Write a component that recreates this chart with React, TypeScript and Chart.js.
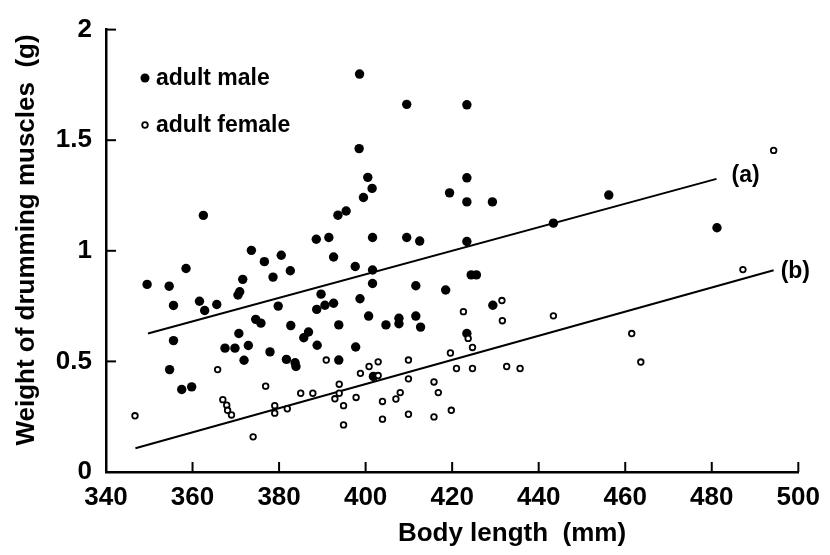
import React, { useEffect, useRef } from "react";
import { Chart, registerables } from "chart.js";

Chart.register(...registerables);

// Body length (mm) / weight (g), adult males (filled)
const maleX = [349.5, 354.6, 355.6, 355.6, 354.7, 357.5, 359.8, 358.5, 361.6, 362.8, 362.5, 365.6, 367.5, 369.8, 370.5, 370.9, 370.7, 371.6, 371.9, 372.9, 373.6, 374.6, 375.8, 376.6, 377.9, 378.6, 379.8, 380.5, 381.7, 382.6, 382.7, 383.7, 383.9, 385.7, 386.8, 388.6, 388.7, 388.8, 389.7, 390.6, 391.5, 392.6, 392.6, 393.6, 393.8, 393.8, 395.5, 397.6, 397.7, 398.5, 398.6, 398.7, 399.5, 400.5, 400.7, 401.5, 401.6, 401.6, 401.6, 401.8, 404.7, 407.7, 407.7, 409.5, 409.5, 411.6, 411.6, 412.5, 412.7, 418.5, 419.4, 423.4, 423.4, 423.4, 423.4, 423.4, 424.4, 425.6, 429.3, 429.4, 443.4, 456.2, 481.2];
const maleY = [0.848, 0.84, 0.753, 0.594, 0.463, 0.373, 0.385, 0.92, 0.772, 0.73, 1.16, 0.757, 0.56, 0.56, 0.8, 0.815, 0.626, 0.871, 0.505, 0.572, 1.002, 0.69, 0.673, 0.951, 0.543, 0.881, 0.75, 0.98, 0.509, 0.91, 0.662, 0.494, 0.477, 0.607, 0.633, 1.052, 0.735, 0.573, 0.804, 0.754, 1.06, 0.972, 0.763, 1.161, 0.665, 0.506, 1.18, 0.929, 0.565, 1.462, 1.799, 0.783, 1.241, 1.332, 0.705, 1.282, 1.06, 0.913, 0.852, 0.432, 0.665, 0.695, 0.67, 1.662, 1.06, 0.842, 0.705, 1.044, 0.655, 0.823, 1.262, 1.66, 1.33, 1.221, 1.042, 0.626, 0.891, 0.891, 1.221, 0.754, 1.125, 1.252, 1.104];

// adult females (open)
const femaleX = [346.7, 365.8, 367.0, 367.9, 368.1, 369.0, 374.0, 376.9, 379.0, 379.0, 381.9, 385.0, 387.8, 390.9, 392.9, 393.9, 393.9, 394.9, 394.9, 397.8, 398.8, 400.8, 402.9, 402.9, 403.9, 403.9, 407.0, 408.0, 409.9, 409.9, 409.9, 415.8, 416.8, 415.8, 419.6, 419.8, 421.0, 422.6, 423.7, 424.7, 424.7, 431.5, 431.6, 432.6, 435.7, 443.4, 461.5, 463.6, 487.2, 494.3];
const femaleY = [0.254, 0.463, 0.327, 0.302, 0.279, 0.258, 0.159, 0.388, 0.3, 0.266, 0.286, 0.356, 0.356, 0.506, 0.331, 0.397, 0.356, 0.3, 0.213, 0.337, 0.446, 0.477, 0.498, 0.436, 0.319, 0.239, 0.33, 0.359, 0.506, 0.421, 0.261, 0.407, 0.359, 0.249, 0.538, 0.279, 0.468, 0.725, 0.604, 0.563, 0.468, 0.775, 0.684, 0.477, 0.468, 0.706, 0.626, 0.497, 0.915, 1.454];

// regression lines
const lineAX = [349.7, 481.1];
const lineAY = [0.626, 1.325];
const lineBX = [346.8, 494.3];
const lineBY = [0.107, 0.912];

const lineLabels = ["(a)", "(b)"];
const legendLabels = ["adult male", "adult female"];
const xTitle = "Body length  (mm)";
const yTitle = "Weight of drumming muscles  (g)";

const FONT = '"Liberation Sans", Arial, Helvetica, sans-serif';

const zip = (xs: number[], ys: number[]) => xs.map((x, i) => ({ x, y: ys[i] }));

const decorPlugin = {
  id: "decor",
  afterDraw(chart: any) {
    const ctx = chart.ctx as CanvasRenderingContext2D;
    const xs = chart.scales.x;
    const ys = chart.scales.y;
    const { left, bottom } = chart.chartArea;
    ctx.save();
    ctx.strokeStyle = "#000";
    ctx.lineWidth = 2;
    // inward tick marks
    xs.ticks.forEach((t: any) => {
      const px = xs.getPixelForValue(t.value);
      ctx.beginPath();
      ctx.moveTo(px, bottom);
      ctx.lineTo(px, bottom - 10);
      ctx.stroke();
    });
    ys.ticks.forEach((t: any) => {
      const py = ys.getPixelForValue(t.value);
      ctx.beginPath();
      ctx.moveTo(left, py);
      ctx.lineTo(left + 10, py);
      ctx.stroke();
    });
    // line labels
    ctx.fillStyle = "#000";
    ctx.font = `bold 23px ${FONT}`;
    ctx.textBaseline = "middle";
    ctx.textAlign = "left";
    ctx.fillText(lineLabels[0], xs.getPixelForValue(lineAX[1]) + 15, ys.getPixelForValue(lineAY[1]) - 3);
    ctx.fillText(lineLabels[1], xs.getPixelForValue(lineBX[1]) + 7, ys.getPixelForValue(lineBY[1]) + 1);
    // legend
    const lx = 145;
    const ly = [78, 125];
    ctx.beginPath();
    ctx.arc(lx, ly[0], 4.5, 0, Math.PI * 2);
    ctx.fill();
    ctx.beginPath();
    ctx.lineWidth = 1.8;
    ctx.arc(lx, ly[1], 2.8, 0, Math.PI * 2);
    ctx.fillStyle = "#fff";
    ctx.fill();
    ctx.stroke();
    ctx.fillStyle = "#000";
    ctx.fillText(legendLabels[0], 156, ly[0] + 1);
    ctx.fillText(legendLabels[1], 156, ly[1] + 1);
    // axis titles
    ctx.font = `bold 26px ${FONT}`;
    ctx.textAlign = "center";
    ctx.textBaseline = "alphabetic";
    ctx.fillText(xTitle, 512, 541);
    ctx.translate(34, 240);
    ctx.rotate(-Math.PI / 2);
    ctx.fillText(yTitle, 0, 0);
    ctx.restore();
  },
};

export default function App() {
  const ref = useRef<HTMLCanvasElement | null>(null);
  useEffect(() => {
    if (!ref.current) return;
    const chart = new Chart(ref.current, {
      type: "scatter",
      data: {
        datasets: [
          {
            label: legendLabels[1],
            data: zip(femaleX, femaleY),
            pointRadius: 2.8,
            pointBackgroundColor: "#fff",
            pointBorderColor: "#000",
            pointBorderWidth: 1.8,
          },
          {
            label: legendLabels[0],
            data: zip(maleX, maleY),
            pointRadius: 4.7,
            pointBackgroundColor: "#000",
            pointBorderWidth: 0,
          },
          {
            type: "line",
            label: "a",
            data: zip(lineAX, lineAY),
            showLine: true,
            borderColor: "#000",
            borderWidth: 2,
            pointRadius: 0,
            fill: false,
          },
          {
            type: "line",
            label: "b",
            data: zip(lineBX, lineBY),
            showLine: true,
            borderColor: "#000",
            borderWidth: 2,
            pointRadius: 0,
            fill: false,
          },
        ] as any,
      },
      options: {
        animation: false,
        responsive: false,
        devicePixelRatio: 1,
        layout: { padding: { left: 0, right: 27, top: 16, bottom: 0 } },
        plugins: { legend: { display: false }, tooltip: { enabled: false } },
        scales: {
          x: {
            type: "linear",
            min: 340,
            max: 500,
            ticks: { stepSize: 20, color: "#000", font: { family: FONT, size: 26, weight: "bold" }, padding: 10 },
            grid: { display: false, drawTicks: false },
            border: { display: true, color: "#000", width: 2.5 },
            afterFit: (s: any) => { s.height = 83; },
          },
          y: {
            type: "linear",
            min: 0,
            max: 2,
            ticks: {
              stepSize: 0.5,
              color: "#000",
              font: { family: FONT, size: 26, weight: "bold" },
              padding: 14,
              callback: (v: any) => String(Number(v)),
            },
            grid: { display: false, drawTicks: false },
            border: { display: true, color: "#000", width: 2.5 },
            afterFit: (s: any) => { s.width = 106; },
          },
        },
      } as any,
      plugins: [decorPlugin],
    });
    return () => chart.destroy();
  }, []);
  return (
    <div style={{ position: "absolute", left: 0, top: 0, width: 830, height: 555, background: "#fff" }}>
      <canvas ref={ref} width={830} height={555} />
    </div>
  );
}
